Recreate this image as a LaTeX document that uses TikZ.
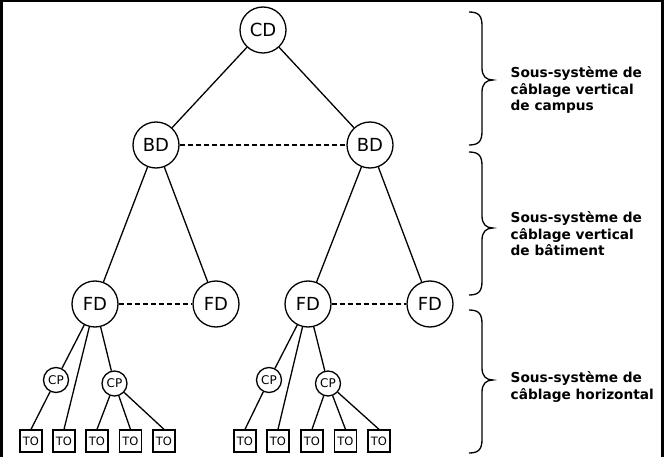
\documentclass[tikz,border=0pt]{standalone}
\usepackage{fontspec}
\newfontfamily\nodefont{DejaVu Sans}
\newfontfamily\labelfont{DejaVu Sans}
\begin{document}
\begin{tikzpicture}[x=1pt,y=-1pt,
  line width=1.3pt,
  big/.style={circle,draw,fill=white,minimum size=46pt,inner sep=0pt,font=\nodefont\fontsize{18}{18}\selectfont},
  small/.style={circle,draw,fill=white,minimum size=25pt,inner sep=0pt,font=\nodefont\fontsize{12}{12}\selectfont},
  outlet/.style={rectangle,draw,fill=white,minimum size=22pt,inner sep=0pt,font=\nodefont\fontsize{11.5}{11.5}\selectfont},
  peer/.style={dash pattern=on 5pt off 3pt},
  lab/.style={anchor=north west,align=left,inner sep=0pt,font=\labelfont\bfseries\fontsize{13.7}{16.5}\selectfont}
]
\useasboundingbox (0,0) rectangle (669,457);
\fill[white] (0,0) rectangle (669,457);
\draw[line width=3pt] (1.5,470) -- (1.5,1) -- (662.5,1) -- (662.5,470);

\node[big] (cd) at (263,30) {CD};
\node[big] (bdl) at (156,145) {BD};
\node[big] (bdr) at (370,145) {BD};
\node[big] (fd1) at (95,304) {FD};
\node[big] (fd2) at (216,304) {FD};
\node[big] (fd3) at (308,304) {FD};
\node[big] (fd4) at (430,304) {FD};
\node[small] (cp1) at (56,380) {CP};
\node[small] (cp2) at (114.5,383.5) {CP};
\node[small] (cp3) at (269,380) {CP};
\node[small] (cp4) at (328,383.5) {CP};
\foreach \i/\x in {1/31,2/64,3/97,4/130.5,5/164,6/245,7/278,8/312,9/345.5,10/379}
  \node[outlet] (to\i) at (\x,441) {TO};

\draw (cd) -- (bdl);
\draw (cd) -- (bdr);
\draw (bdl) -- (fd1);
\draw (bdl) -- (fd2);
\draw (bdr) -- (fd3);
\draw (bdr) -- (fd4);
\draw[peer] (bdl) -- (bdr);
\draw[peer] (fd1) -- (fd2);
\draw[peer] (fd3) -- (fd4);

\draw (fd1) -- (cp1);
\draw (fd1) -- (to2.north);
\draw (fd1) -- (cp2);
\draw (cp1) -- (to1.north);
\draw (cp2) -- (to3.north);
\draw (cp2) -- (to4.north);
\draw (cp2) -- (to5.north);

\draw (fd3) -- (cp3);
\draw (fd3) -- (to7.north);
\draw (fd3) -- (cp4);
\draw (cp3) -- (to6.north);
\draw (cp4) -- (to8.north);
\draw (cp4) -- (to9.north);
\draw (cp4) -- (to10.north);

\draw (469,12) .. controls (479,12) and (482,16) .. (482,26) -- (482,68) .. controls (482,76) and (486,80) .. (493,80) .. controls (486,80) and (482,84) .. (482,92) -- (482,131) .. controls (482,141) and (479,145) .. (469,145);
\draw (469,152) .. controls (479,152) and (482,156) .. (482,166) -- (482,216) .. controls (482,224) and (486,228) .. (493,228) .. controls (486,228) and (482,232) .. (482,240) -- (482,281) .. controls (482,291) and (479,295) .. (469,295);
\draw (469,310) .. controls (479,310) and (482,314) .. (482,324) -- (482,368) .. controls (482,376) and (486,380) .. (493,380) .. controls (486,380) and (482,384) .. (482,392) -- (482,439) .. controls (482,449) and (479,453) .. (469,453);

\node[lab] (l1) at (510,66) {Sous-système de\\câblage vertical\\de campus};
\node[lab] (l2) at (510,211) {Sous-système de\\câblage vertical\\de bâtiment};
\node[lab] (l3) at (510,371) {Sous-système de\\câblage horizontal};
\end{tikzpicture}
\end{document}
